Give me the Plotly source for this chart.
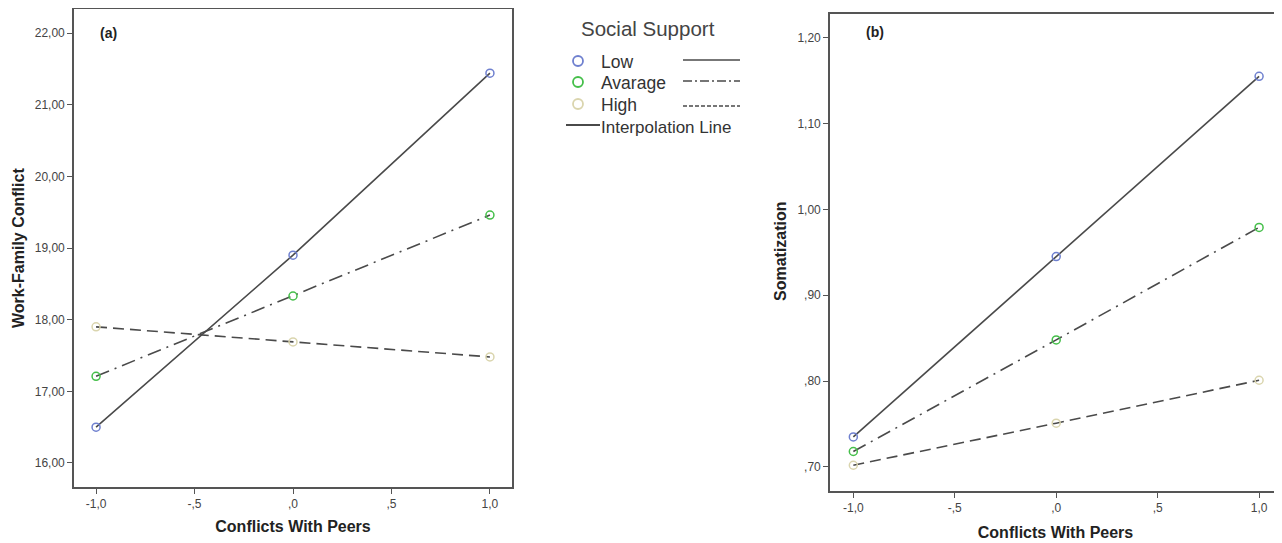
import plotly.graph_objects as go

# ---------------- data ----------------
x_levels = [-1.0, 0.0, 1.0]
groups = ["Low", "Avarage", "High"]

wfc_low = [16.50, 18.90, 21.44]
wfc_avg = [17.21, 18.33, 19.46]
wfc_high = [17.90, 17.69, 17.48]

som_low = [0.735, 0.945, 1.155]
som_avg = [0.718, 0.848, 0.979]
som_high = [0.702, 0.751, 0.801]

x_tickvals = [-1.0, -0.5, 0.0, 0.5, 1.0]
x_ticktext = ["-1,0", "-,5", ",0", ",5", "1,0"]
ya_tickvals = [16, 17, 18, 19, 20, 21, 22]
ya_ticktext = ["16,00", "17,00", "18,00", "19,00", "20,00", "21,00", "22,00"]
yb_tickvals = [0.70, 0.80, 0.90, 1.00, 1.10, 1.20]
yb_ticktext = [",70", ",80", ",90", "1,00", "1,10", "1,20"]

# ---------------- styles ----------------
FONT = "Arial, Liberation Sans, sans-serif"
marker_colors = {"Low": "#6f80cf", "Avarage": "#45bf4a", "High": "#dad5ae"}
dashes = {"Low": "solid", "Avarage": "14px,6px,2px,6px", "High": "11px,6px"}
LINE_COLOR = "#4a4a4a"
FRAME = "#555555"

# page has an 8px body margin; map page pixels into figure paper coords
OFF = 8
W, H = 1274, 535


def px(x):
    return (x - OFF) / W


def py(y):
    return 1 - (y - OFF) / H


fig = go.Figure()

panels = [
    ("x", "y", [wfc_low, wfc_avg, wfc_high]),
    ("x2", "y2", [som_low, som_avg, som_high]),
]
for xa, ya, series in panels:
    for name, vals in zip(groups, series):
        fig.add_trace(go.Scatter(
            x=x_levels, y=vals, mode="lines", xaxis=xa, yaxis=ya,
            line=dict(color=LINE_COLOR, width=1.6, dash=dashes[name]),
            showlegend=False, hoverinfo="skip"))
    for name, vals in zip(groups, series):
        fig.add_trace(go.Scatter(
            x=x_levels, y=vals, mode="markers", xaxis=xa, yaxis=ya, name=name,
            marker=dict(symbol="circle-open", size=8, color=marker_colors[name],
                        line=dict(width=1.5, color=marker_colors[name])),
            showlegend=False))

axis_common = dict(showgrid=False, zeroline=False, showline=True, mirror=True,
                   linecolor=FRAME, linewidth=1.6, ticks="outside", ticklen=5,
                   tickcolor=FRAME, tickwidth=1.3,
                   tickfont=dict(family=FONT, size=12, color="#444444"))
title_font = dict(family=FONT, size=16, color="#222222")

fig.update_layout(
    width=W, height=H,
    margin=dict(l=0, r=0, t=0, b=0),
    template="none",
    paper_bgcolor="white", plot_bgcolor="white",
    showlegend=False,
    xaxis=dict(domain=[px(74), px(512)], range=[-1.112, 1.112],
               tickvals=x_tickvals, ticktext=x_ticktext, anchor="y",
               title=dict(text="<b>Conflicts With Peers</b>", font=title_font, standoff=11),
               **axis_common),
    yaxis=dict(domain=[py(487), py(9)], range=[15.665, 22.335],
               tickvals=ya_tickvals, ticktext=ya_ticktext, anchor="x",
               **axis_common),
    xaxis2=dict(domain=[px(830), px(1281)], range=[-1.115, 1.108],
                tickvals=x_tickvals, ticktext=x_ticktext, anchor="y2",
                title=dict(text="<b>Conflicts With Peers</b>", font=title_font, standoff=13),
                **axis_common),
    yaxis2=dict(domain=[py(491), py(14)], range=[0.672, 1.2276],
                tickvals=yb_tickvals, ticktext=yb_ticktext, anchor="x2",
                **axis_common),
)

# y-axis titles (placed precisely)
fig.add_annotation(text="<b>Work-Family Conflict</b>", xref="paper", yref="paper",
                   x=px(18), y=py(248), xanchor="center", yanchor="middle",
                   textangle=-90, showarrow=False, font=title_font)
fig.add_annotation(text="<b>Somatization</b>", xref="paper", yref="paper",
                   x=px(780), y=py(251), xanchor="center", yanchor="middle",
                   textangle=-90, showarrow=False, font=title_font)

# panel labels
fig.add_annotation(text="<b>(a)</b>", xref="paper", yref="paper",
                   x=px(98), y=py(33), xanchor="left", yanchor="middle",
                   showarrow=False, font=dict(family=FONT, size=14, color="#222222"))
fig.add_annotation(text="<b>(b)</b>", xref="paper", yref="paper",
                   x=px(864), y=py(32), xanchor="left", yanchor="middle",
                   showarrow=False, font=dict(family=FONT, size=14, color="#222222"))

# custom legend (paper coordinates)
fig.add_annotation(text="Social Support", xref="paper", yref="paper",
                   x=px(579), y=py(28), xanchor="left", yanchor="middle",
                   showarrow=False, font=dict(family=FONT, size=20.5, color="#444444"))
legend_rows = [("Low", 61), ("Avarage", 82), ("High", 104)]
legend_line_y = {"Low": 60, "Avarage": 81, "High": 106}
legend_dash = {"Low": "solid", "Avarage": "9px,3px,2px,3px", "High": "4px,2px"}
for name, yy in legend_rows:
    fig.add_shape(type="circle", xref="paper", yref="paper",
                  x0=px(573), x1=px(583), y0=py(yy + 5), y1=py(yy - 5),
                  line=dict(color=marker_colors[name], width=1.8))
    fig.add_annotation(text=name, xref="paper", yref="paper",
                       x=px(599), y=py(yy + 1), xanchor="left", yanchor="middle",
                       showarrow=False, font=dict(family=FONT, size=17.5, color="#333333"))
    ly = legend_line_y[name]
    fig.add_shape(type="line", xref="paper", yref="paper",
                  x0=px(683), x1=px(740), y0=py(ly), y1=py(ly),
                  line=dict(color=LINE_COLOR, width=1.4, dash=legend_dash[name]))
fig.add_shape(type="line", xref="paper", yref="paper",
              x0=px(566), x1=px(600), y0=py(125), y1=py(125),
              line=dict(color=LINE_COLOR, width=1.8))
fig.add_annotation(text="Interpolation Line", xref="paper", yref="paper",
                   x=px(599), y=py(127), xanchor="left", yanchor="middle",
                   showarrow=False, font=dict(family=FONT, size=17, color="#333333"))

fig.write_html("out.html")
